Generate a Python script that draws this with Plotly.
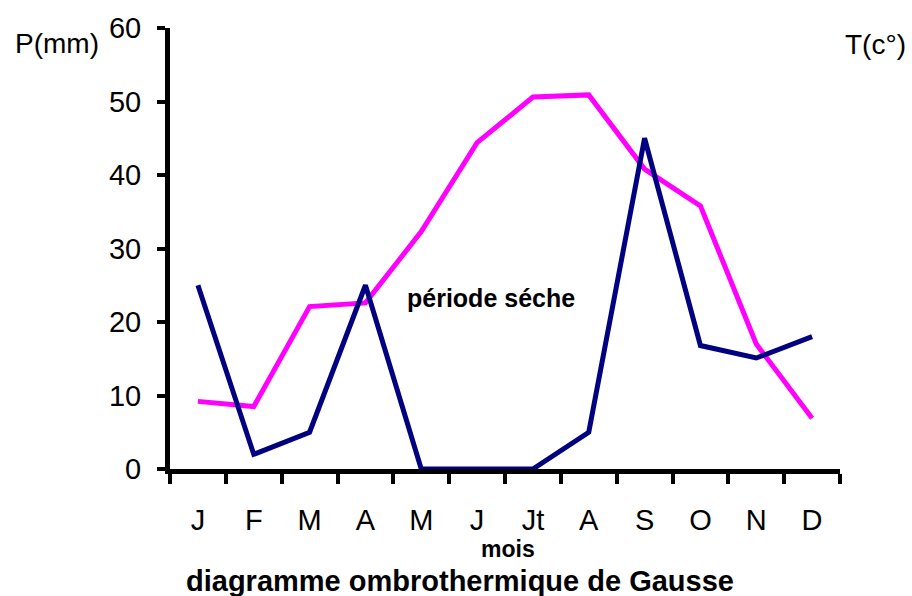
import plotly.graph_objects as go

# Monthly data
months = ["J", "F", "M", "A", "M ", "J ", "Jt", "A ", "S", "O", "N", "D"]
precip = [25, 2, 5, 25, 0, 0, 0, 5, 45, 16.8, 15.1, 18]
temp = [9.2, 8.5, 22.1, 22.6, 32.3, 44.4, 50.6, 50.9, 40.8, 35.8, 17.0, 6.9]
y_ticks = [0, 10, 20, 30, 40, 50, 60]

W, H = 912, 596
l, r, t, b = 170, 72, 26, 127

fig = go.Figure()

fig.add_trace(go.Scatter(
    x=months, y=temp, mode="lines",
    line=dict(color="#FF00FF", width=5),
    showlegend=False, cliponaxis=False
))
fig.add_trace(go.Scatter(
    x=months, y=precip, mode="lines",
    line=dict(color="#000080", width=5),
    showlegend=False, cliponaxis=False
))

font = "Liberation Sans, Arial, sans-serif"


def px(x, y):
    # page pixel -> paper coordinates
    return (x - l) / (W - l - r), 1 - (y - t) / (H - t - b)


labels = [
    ("P(mm)", 13, 42, 28, "left"),
    ("T(c°)", 908, 43, 28, "right"),
    ("<b>période séche</b>", 491, 297, 25, "center"),
    ("<b>mois</b>", 508, 549, 23, "center"),
    ("<b>diagramme ombrothermique de Gausse</b>", 460, 582, 29, "center"),
]
annotations = []
for text, x, y, size, anchor in labels:
    ax, ay = px(x, y)
    annotations.append(dict(
        text=text, x=ax, y=ay, xref="paper", yref="paper", showarrow=False,
        font=dict(size=size, family=font, color="black"),
        xanchor=anchor, yanchor="middle"
    ))

fig.update_layout(
    width=W, height=H,
    margin=dict(l=l, r=r, t=t, b=b),
    paper_bgcolor="white", plot_bgcolor="white",
    font=dict(family=font, color="black"),
    xaxis=dict(
        type="category", range=[-0.5, 11.5],
        showgrid=False, zeroline=False,
        showline=True, linecolor="black", linewidth=5,
        ticks="outside", tickson="boundaries", ticklen=10, tickwidth=4, tickcolor="black",
        tickfont=dict(size=29, family=font), ticklabelstandoff=21,
        tickvals=months, ticktext=[m.strip() for m in months],
    ),
    yaxis=dict(
        range=[0, 60], tickvals=y_ticks,
        showgrid=False, zeroline=False,
        showline=True, linecolor="black", linewidth=5,
        ticks="outside", ticklen=8, tickwidth=4, tickcolor="black",
        tickfont=dict(size=29, family=font), ticklabelstandoff=10,
    ),
    annotations=annotations,
)

fig.write_html("out.html", config={"displayModeBar": False},
               post_script="document.body.style.margin='0';")
